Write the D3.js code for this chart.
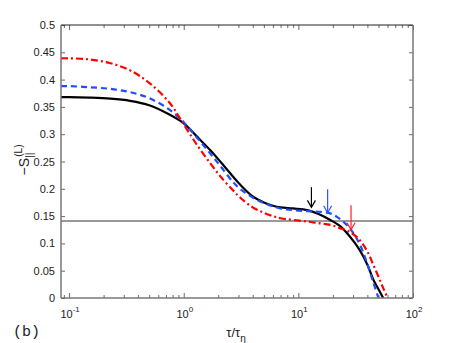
<!DOCTYPE html>
<html>
<head>
<meta charset="utf-8">
<script src="https://cdn.jsdelivr.net/npm/d3@7"></script>
<style>
  body { margin: 0; background: #fff; }
  svg { display: block; font-family: "Liberation Sans", Arial, sans-serif; }
</style>
</head>
<body>
<svg id="chart"></svg>
<script>
// data
var tau = [0.085, 0.1, 0.15, 0.23, 0.34, 0.5, 0.75, 1, 1.3, 1.7, 2.1, 2.7, 3.1, 4, 5, 6, 7, 9, 12, 15, 19, 23, 28, 34, 40, 45, 50, 55, 60];
var blackVals = [0.368, 0.368, 0.367, 0.365, 0.361, 0.353, 0.336, 0.320, 0.296, 0.271, 0.249, 0.222, 0.208, 0.186, 0.175, 0.169, 0.166, 0.164, 0.161, 0.154, 0.143, 0.132, 0.113, 0.089, 0.061, 0.034, 0.016, 0.0, null];
var blueVals  = [0.388, 0.388, 0.386, 0.383, 0.377, 0.366, 0.345, 0.322, 0.294, 0.265, 0.241, 0.212, 0.200, 0.184, 0.174, 0.168, 0.164, 0.161, 0.159, 0.158, 0.155, 0.145, 0.128, 0.100, 0.062, 0.029, 0.0, null, null];
var redVals   = [0.439, 0.439, 0.437, 0.430, 0.417, 0.394, 0.358, 0.318, 0.281, 0.247, 0.222, 0.197, 0.184, 0.166, 0.156, 0.150, 0.146, 0.143, 0.140, 0.137, 0.134, 0.128, 0.121, 0.107, 0.085, 0.061, 0.039, 0.018, 0.0];
var refLevel = 0.141;

var arrowTau = [13, 18, 28.8];
var arrowTop = [0.203, 0.199, 0.170];
var arrowTip = [0.166, 0.156, 0.125];

var yTicks = [0, 0.05, 0.1, 0.15, 0.2, 0.25, 0.3, 0.35, 0.4, 0.45, 0.5];
var yTickLabels = ["0", "0.05", "0.1", "0.15", "0.2", "0.25", "0.3", "0.35", "0.4", "0.45", "0.5"];
var xMajor = [0.1, 1, 10, 100];
var xExponents = ["-1", "0", "1", "2"];

//layout conf.
var svgWidth = 456, svgHeight = 343,
    plotLeft = 61, plotRight = 413, plotTop = 25, plotBottom = 298;

var series = [
  {vals: blackVals, color: "#000000", dash: null},
  {vals: blueVals,  color: "#1f4cff", dash: "6,4"},
  {vals: redVals,   color: "#ff0000", dash: "7,3,2,3"}
];
var arrowColors = ["#000000", "#2a55ff", "#ff2020"];

var svg = d3.select("#chart").attr("width", svgWidth).attr("height", svgHeight);

var x = d3.scaleLog().domain([0.085, 100]).range([plotLeft, plotRight]);
var y = d3.scaleLinear().domain([0, 0.5]).range([plotBottom, plotTop]);

// minor ticks
var xMinor = [0.09];
[0.1, 1, 10].forEach(function(d) {
  for (var k = 2; k <= 9; k++) xMinor.push(d * k);
});

svg.append("defs").append("clipPath").attr("id", "plotclip")
  .append("rect").attr("x", plotLeft).attr("y", plotTop)
  .attr("width", plotRight - plotLeft).attr("height", plotBottom - plotTop);

// ticks, all pointing inside
function tickGroup(axis, tx, ty) {
  var g = svg.append("g").attr("transform", "translate(" + tx + "," + ty + ")").call(axis);
  g.select(".domain").remove();
  g.selectAll("line").attr("stroke", "#444").attr("stroke-width", 0.8);
  return g;
}
tickGroup(d3.axisBottom(x).tickValues(xMajor).tickSize(-5).tickFormat(""), 0, plotBottom);
tickGroup(d3.axisBottom(x).tickValues(xMinor).tickSize(-3).tickFormat(""), 0, plotBottom);
tickGroup(d3.axisTop(x).tickValues(xMajor).tickSize(-5).tickFormat(""), 0, plotTop);
tickGroup(d3.axisTop(x).tickValues(xMinor).tickSize(-3).tickFormat(""), 0, plotTop);
tickGroup(d3.axisLeft(y).tickValues(yTicks).tickSize(-4).tickFormat(""), plotLeft, 0);
tickGroup(d3.axisRight(y).tickValues(yTicks).tickSize(-4).tickFormat(""), plotRight, 0);

// y tick labels
svg.append("g").selectAll("text").data(yTicks).enter().append("text")
  .attr("x", plotLeft - 6).attr("y", function(d) { return y(d) + 4; })
  .attr("text-anchor", "end").attr("font-size", 11).attr("fill", "#222")
  .text(function(d, i) { return yTickLabels[i]; });

// x tick labels 10^n
var xl = svg.append("g").selectAll("text").data(xMajor).enter().append("text")
  .attr("x", function(d) { return x(d) + 1; }).attr("y", 318)
  .attr("text-anchor", "middle").attr("font-size", 11).attr("fill", "#222");
xl.append("tspan").text("10");
xl.append("tspan").attr("dy", -6).attr("font-size", 8).text(function(d, i) { return xExponents[i]; });

// reference line
svg.append("line")
  .attr("x1", plotLeft).attr("x2", plotRight)
  .attr("y1", y(refLevel)).attr("y2", y(refLevel))
  .attr("stroke", "#333").attr("stroke-width", 1);

// curves
var line = d3.line()
  .defined(function(d) { return d[1] !== null; })
  .x(function(d) { return x(d[0]); })
  .y(function(d) { return y(d[1]); })
  .curve(d3.curveCatmullRom.alpha(0.5));

var curves = svg.append("g").attr("clip-path", "url(#plotclip)");
series.forEach(function(s) {
  var pts = tau.map(function(t, i) { return [t, s.vals[i]]; });
  curves.append("path")
    .attr("d", line(pts))
    .attr("fill", "none")
    .attr("stroke", s.color)
    .attr("stroke-width", 2.2)
    .attr("stroke-dasharray", s.dash);
});

// arrows
arrowTau.forEach(function(t, i) {
  var ax = x(t), y0 = y(arrowTop[i]), y1 = y(arrowTip[i]);
  var g = svg.append("g").attr("stroke", arrowColors[i]).attr("fill", "none").attr("stroke-width", 1.2);
  g.append("line").attr("x1", ax).attr("x2", ax).attr("y1", y0).attr("y2", y1);
  g.append("path").attr("d", "M" + (ax - 4) + "," + (y1 - 7) + "L" + ax + "," + y1 + "L" + (ax + 4) + "," + (y1 - 7));
});

// box
svg.append("line").attr("x1", plotLeft).attr("x2", plotRight).attr("y1", plotTop).attr("y2", plotTop).attr("stroke", "#222").attr("stroke-width", 1);
svg.append("line").attr("x1", plotLeft).attr("x2", plotRight).attr("y1", plotBottom).attr("y2", plotBottom).attr("stroke", "#777").attr("stroke-width", 1.5);
svg.append("line").attr("x1", plotLeft).attr("x2", plotLeft).attr("y1", plotTop).attr("y2", plotBottom).attr("stroke", "#777").attr("stroke-width", 1.5);
svg.append("line").attr("x1", plotRight).attr("x2", plotRight).attr("y1", plotTop).attr("y2", plotBottom).attr("stroke", "#777").attr("stroke-width", 1.5);

// x axis label
var xt = svg.append("text").attr("x", 236).attr("y", 337).attr("text-anchor", "middle")
  .attr("font-size", 13).attr("fill", "#222");
xt.append("tspan").text("\u03c4/\u03c4");
xt.append("tspan").attr("dy", 5).attr("font-size", 10).text("\u03b7");

// y axis label
var yt = svg.append("text").attr("transform", "translate(29,160) rotate(-90)")
  .attr("text-anchor", "middle").attr("font-size", 14).attr("fill", "#222");
yt.append("tspan").text("\u2212S");
yt.append("tspan").attr("dy", 4).attr("font-size", 10).text("||");
yt.append("tspan").attr("dy", -11).attr("dx", -4).attr("font-size", 10).text("(L)");

// panel tag
svg.append("text").attr("x", 13).attr("y", 336).attr("font-family", "'Liberation Mono', monospace")
  .attr("font-size", 15).attr("fill", "#222").text("(b)");
</script>
</body>
</html>
